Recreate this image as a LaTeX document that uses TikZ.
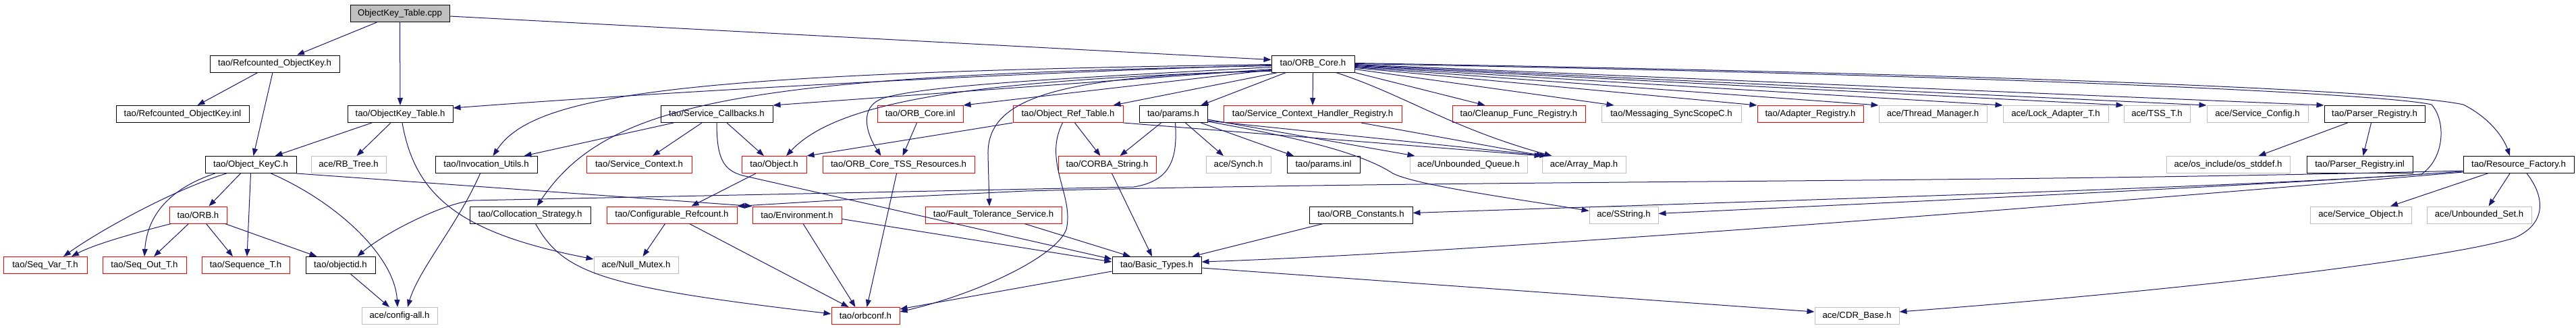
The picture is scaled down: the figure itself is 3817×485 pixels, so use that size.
\documentclass[tikz,border=0pt]{standalone}
\usepackage{fontspec}
\setmainfont{Liberation Sans}
\usetikzlibrary{arrows.meta}
\definecolor{edgec}{HTML}{191970}
\definecolor{graybd}{HTML}{BFBFBF}
\definecolor{redbd}{HTML}{FF0000}
\begin{document}
\begin{tikzpicture}[x=1pt,y=-1pt,
  box/.style={rectangle, minimum height=25pt, inner sep=0pt, line width=1pt, fill=white,
    font=\fontsize{13.2pt}{15pt}\selectfont, text=black},
  kbox/.style={box, draw=black},
  rbox/.style={box, draw=redbd},
  gbox/.style={box, draw=graybd},
  cbox/.style={box, draw=black, fill=graybd},
  e/.style={draw=edgec, line width=1pt, -{Triangle[length=11pt,width=8pt]}}]
\useasboundingbox[fill=white] (0,0) rectangle (3817,485);

% row 0
\node[cbox, minimum width=147pt] (cpp) at (592.5,20) {ObjectKey\_Table.cpp};
% row 1
\node[kbox, minimum width=192pt] (rok) at (407,94.5) {tao/Refcounted\_ObjectKey.h};
\node[kbox, minimum width=123pt] (orbcore) at (1945.5,94.5) {tao/ORB\_Core.h};
% row 2
\node[kbox, minimum width=197pt] (rokinl) at (270.5,169) {tao/Refcounted\_ObjectKey.inl};
\node[kbox, minimum width=156pt] (okt) at (593,169) {tao/ObjectKey\_Table.h};
\node[kbox, minimum width=166pt] (sc) at (1062,169) {tao/Service\_Callbacks.h};
\node[rbox, minimum width=127pt] (coreinl) at (1363.5,169) {tao/ORB\_Core.inl};
\node[rbox, minimum width=163pt] (ort) at (1582.5,169) {tao/Object\_Ref\_Table.h};
\node[kbox, minimum width=101pt] (params) at (1738.5,169) {tao/params.h};
\node[rbox, minimum width=264pt] (schr) at (1945,169) {tao/Service\_Context\_Handler\_Registry.h};
\node[rbox, minimum width=197pt] (cleanup) at (2250.5,169) {tao/Cleanup\_Func\_Registry.h};
\node[gbox, minimum width=207pt] (msg) at (2476.5,169) {tao/Messaging\_SyncScopeC.h};
\node[rbox, minimum width=157pt] (adapter) at (2682.5,169) {tao/Adapter\_Registry.h};
\node[gbox, minimum width=160pt] (thrmgr) at (2864,169) {ace/Thread\_Manager.h};
\node[gbox, minimum width=156pt] (lockad) at (3046,169) {ace/Lock\_Adapter\_T.h};
\node[gbox, minimum width=98pt] (tss) at (3196,169) {ace/TSS\_T.h};
\node[gbox, minimum width=150pt] (svccfg) at (3345,169) {ace/Service\_Config.h};
\node[kbox, minimum width=149pt] (preg) at (3518.5,169) {tao/Parser\_Registry.h};
% row 3
\node[kbox, minimum width=135pt] (okc) at (371.5,244) {tao/Object\_KeyC.h};
\node[gbox, minimum width=111pt] (rbtree) at (516.5,244) {ace/RB\_Tree.h};
\node[kbox, minimum width=151pt] (iu) at (720.5,244) {tao/Invocation\_Utils.h};
\node[rbox, minimum width=156pt] (sctx) at (947,244) {tao/Service\_Context.h};
\node[rbox, minimum width=96pt] (obj) at (1147,244) {tao/Object.h};
\node[rbox, minimum width=225pt] (tssr) at (1331.5,244) {tao/ORB\_Core\_TSS\_Resources.h};
\node[rbox, minimum width=145pt] (cstr) at (1640.5,244) {tao/CORBA\_String.h};
\node[gbox, minimum width=96pt] (synch) at (1835,244) {ace/Synch.h};
\node[kbox, minimum width=108pt] (paramsinl) at (1961,244) {tao/params.inl};
\node[gbox, minimum width=174pt] (ubq) at (2176,244) {ace/Unbounded\_Queue.h};
\node[gbox, minimum width=124pt] (amap) at (2347,244) {ace/Array\_Map.h};
\node[gbox, minimum width=183pt] (osstd) at (3301.5,244) {ace/os\_include/os\_stddef.h};
\node[kbox, minimum width=157pt] (preginl) at (3496.5,244) {tao/Parser\_Registry.inl};
\node[kbox, minimum width=164pt] (rf) at (3732,244) {tao/Resource\_Factory.h};
% row 4
\node[rbox, minimum width=85pt] (orb) at (293.5,318.5) {tao/ORB.h};
\node[kbox, minimum width=179pt] (colloc) at (785.5,318.5) {tao/Collocation\_Strategy.h};
\node[rbox, minimum width=193pt] (cref) at (995.5,318.5) {tao/Configurable\_Refcount.h};
\node[rbox, minimum width=132pt] (env) at (1181,318.5) {tao/Environment.h};
\node[rbox, minimum width=202pt] (fts) at (1472,318.5) {tao/Fault\_Tolerance\_Service.h};
\node[kbox, minimum width=153pt] (orbconst) at (2016.5,318.5) {tao/ORB\_Constants.h};
\node[gbox, minimum width=102pt] (sstring) at (2406,318.5) {ace/SString.h};
\node[gbox, minimum width=150pt] (svcobj) at (3498,318.5) {ace/Service\_Object.h};
\node[gbox, minimum width=155pt] (ubset) at (3673.5,318.5) {ace/Unbounded\_Set.h};
% row 5
\node[rbox, minimum width=124pt] (seqvar) at (67,393) {tao/Seq\_Var\_T.h};
\node[rbox, minimum width=124pt] (seqout) at (214,393) {tao/Seq\_Out\_T.h};
\node[rbox, minimum width=130pt] (seqt) at (364,393) {tao/Sequence\_T.h};
\node[kbox, minimum width=103pt] (objid) at (504.5,393) {tao/objectid.h};
\node[gbox, minimum width=125pt] (nullmx) at (942.5,393) {ace/Null\_Mutex.h};
\node[kbox, minimum width=132pt] (btypes) at (1714,393) {tao/Basic\_Types.h};
% row 6
\node[gbox, minimum width=112pt] (cfgall) at (592,468) {ace/config-all.h};
\node[rbox, minimum width=101pt] (orbconf) at (1282.5,468) {tao/orbconf.h};
\node[gbox, minimum width=125pt] (cdr) at (2751.5,468) {ace/CDR\_Base.h};

% ---- edges ----
\draw[e] ([xshift=-34pt]cpp.south) -- ([xshift=33pt]rok.north);
\draw[e] (cpp.south) -- (okt.north);
\draw[e] ([yshift=-4pt]cpp.east) -- ([yshift=6pt]orbcore.west);
\draw[e] ([xshift=-25pt]rok.south) -- ([xshift=22pt]rokinl.north);
\draw[e] ([xshift=-3pt]rok.south) -- ([xshift=4pt]okc.north);
\draw[e] ([xshift=-42pt]okt.south) -- ([xshift=36pt]okc.north);
\draw[e] ([xshift=-14pt]okt.south) -- ([xshift=12pt]rbtree.north);
\draw[e] ([xshift=3pt]okt.south) .. controls (615,290) and (680,345) .. ([yshift=9pt]nullmx.west);
\draw[e] ([xshift=-15pt]okc.south) -- ([xshift=16pt]orb.north);
\draw[e] ([xshift=-36pt]okc.south) .. controls (260,280) and (150,340) .. ([xshift=27pt]seqvar.north);
\draw[e] ([xshift=-53pt]okc.south) .. controls (250,280) and (218,320) .. (seqout.north);
\draw[e] (okc.south) -- ([xshift=2pt]seqt.north);
\draw[e] ([xshift=30pt]okc.south) .. controls (500,300) and (585,380) .. ([xshift=-3pt]cfgall.north);
\draw[e] (okc.south east) -- (env.north west);
\draw[e] ([xshift=-40pt]orb.south) .. controls (200,345) and (140,362) .. ([xshift=39pt]seqvar.north);
\draw[e] ([xshift=-14pt]orb.south) -- ([xshift=14pt]seqout.north);
\draw[e] ([xshift=12pt]orb.south) -- ([xshift=-19pt]seqt.north);
\draw[e] ([xshift=40pt]orb.south) -- ([xshift=-35pt]objid.north);
\draw[e] ([xshift=15pt]objid.south) -- ([xshift=-15pt]cfgall.north);
\draw[e] ([xshift=-9pt]iu.south) .. controls (680,330) and (620,400) .. ([xshift=12pt]cfgall.north);
\draw[e] ([xshift=-64pt]sc.south) -- ([xshift=56pt]iu.north);
\draw[e] ([xshift=-22pt]sc.south) -- ([xshift=20pt]sctx.north);
\draw[e] ([xshift=15pt]sc.south) -- ([xshift=-15pt]obj.north);
\draw[e] (sc.south) .. controls (1062,235) and (1072,252) .. (1100,260) -- ([yshift=9pt]btypes.west);
\draw[e] ([xshift=-27pt]obj.south) -- ([xshift=29pt]cref.north);
\draw[e] ([xshift=-10pt]cref.south) -- ([xshift=10pt]nullmx.north);
\draw[e] ([xshift=26pt]cref.south) -- ([xshift=-25pt]orbconf.north);
\draw[e] ([xshift=9pt]env.south) -- ([xshift=-15pt]orbconf.north);
\draw[e] ([yshift=-6pt]env.east) -- ([yshift=5pt]btypes.west);
\draw[e] ([xshift=8pt]colloc.south) .. controls (835,405) and (890,425) .. ([yshift=3pt]orbconf.west);
\draw[e] ([xshift=-3pt]tssr.south) -- ([xshift=2pt]orbconf.north);
\draw[e] ([xshift=-5pt]coreinl.south) -- ([xshift=6pt]tssr.north);
\draw[e] (ort.south west) -- (obj.north east);
\draw[e] ([xshift=10pt]ort.south) -- ([xshift=-10pt]cstr.north);
\draw[e] ([xshift=-8pt]ort.south) .. controls (1545,240) and (1592,290) .. (1580,340) .. controls (1565,380) and (1450,435) .. ([yshift=6pt]orbconf.east);
\draw[e] (ort.south east) -- (amap.north west);
\draw[e] ([xshift=-18pt]params.south) -- ([xshift=19pt]cstr.north);
\draw[e] ([xshift=3pt]params.south) .. controls (1745,235) and (1735,268) .. (1680,277) -- (700,297) .. controls (655,302) and (570,345) .. ([xshift=25pt]objid.north);
\draw[e] ([xshift=18pt]params.south) -- ([xshift=-22pt]synch.north);
\draw[e] ([xshift=41pt]params.south) -- ([xshift=-44pt]paramsinl.north);
\draw[e] ([yshift=-8pt]params.east) -- ([xshift=8pt]ubq.north west);
\draw[e] ([yshift=-10pt]params.east) -- ([xshift=8pt]amap.north west);
\draw[e] ([yshift=-11pt]params.east) .. controls (1900,200) and (2010,222) .. (2064,257) .. controls (2100,275) and (2250,295) .. ([yshift=6pt]sstring.west);
\draw[e] ([xshift=72pt]schr.south) -- ([xshift=3pt]amap.north west);
\draw[e] (orbcore.south) -- (schr.north);
\draw[e] (orbcore.south east) -- ([xshift=-50pt]cleanup.north);
\draw[e] ([yshift=-8pt]orbcore.east) -- ([xshift=-85pt]msg.north);
\draw[e] ([xshift=34pt]orbcore.south) .. controls (2080,140) and (2150,190) .. ([xshift=15pt]amap.north west);
\draw[e] ([yshift=-6pt]orbcore.east) -- (adapter.north west);
\draw[e] ([yshift=-5pt]orbcore.east) -- (thrmgr.north west);
\draw[e] ([yshift=-4pt]orbcore.east) -- (lockad.north west);
\draw[e] ([yshift=-3pt]orbcore.east) -- (tss.north west);
\draw[e] ([yshift=-2pt]orbcore.east) -- (svccfg.north west);
\draw[e] ([yshift=-1pt]orbcore.east) -- (preg.north west);
\draw[e] (orbcore.east) .. controls (3000,112) and (3540,140) .. (3603,155) .. controls (3625,180) and (3622,235) .. (3588,258) .. controls (3300,278) and (2700,295) .. ([yshift=3pt]orbconst.east);
\draw[e] ([yshift=1pt]orbcore.east) .. controls (3000,110) and (3560,135) .. (3650,155) .. controls (3690,175) and (3710,205) .. ([xshift=-13pt]rf.north);
\draw[e] ([xshift=-46pt]rf.south) -- ([xshift=44pt]svcobj.north);
\draw[e] ([xshift=-13pt]rf.south) -- ([xshift=14pt]ubset.north);
\draw[e] ([xshift=12pt]rf.south) .. controls (3770,290) and (3775,330) .. (3727,352) .. controls (3650,378) and (3300,425) .. ([yshift=6pt]cdr.east);
\draw[e] ([yshift=-9pt]rf.west) .. controls (2900,272) and (2200,266) .. (1520,283) -- (1250,296) -- (cref.north east);
\draw[e] ([yshift=-10pt]rf.west) .. controls (3300,278) and (2800,300) .. ([yshift=2pt]sstring.east);
\draw[e] ([yshift=-11pt]rf.west) .. controls (3500,268) and (2300,370) .. ([yshift=5pt]btypes.east);
\draw[e] ([xshift=-56pt]orbconst.south) -- ([xshift=-14pt]btypes.north east);
\draw[e] ([xshift=46pt]fts.south) -- ([xshift=-39pt]btypes.north);
\draw[e] ([xshift=7pt]cstr.south) -- ([xshift=-7pt]btypes.north);
\draw[e] ([yshift=-9pt]btypes.west) -- ([yshift=10pt]orbconf.east);
\draw[e] ([yshift=-4pt]btypes.east) -- ([yshift=6pt]cdr.west);
\draw[e] ([xshift=-40pt]preg.south) -- ([xshift=45pt]osstd.north);
\draw[e] ([xshift=-5pt]preg.south) -- ([xshift=5pt]preginl.north);
% ORB_Core.h fan to the left
\draw[e] ([yshift=-2pt]orbcore.west) .. controls (1500,108) and (1000,135) .. ([yshift=9pt]okt.east);
\draw[e] ([yshift=-1pt]orbcore.west) .. controls (1000,108) and (790,140) .. ([xshift=10pt]iu.north);
\draw[e] ([yshift=-3pt]orbcore.west) .. controls (1100,112) and (900,150) .. ([xshift=10pt]colloc.north);
\draw[e] ([yshift=-8pt]orbcore.west) -- (sc.north east);
\draw[e] ([yshift=-10pt]orbcore.west) .. controls (1500,118) and (1250,140) .. ([xshift=18pt]obj.north);
\draw[e] ([yshift=-5pt]orbcore.west) .. controls (1600,115) and (1380,125) .. (1310,145) .. controls (1270,158) and (1285,200) .. ([xshift=-26pt]tssr.north);
\draw[e] ([yshift=-9pt]orbcore.west) -- (coreinl.north east);
\draw[e] ([xshift=-52pt]orbcore.south) -- ([xshift=67pt]ort.north);
\draw[e] ([xshift=-40pt]orbcore.south) -- ([xshift=41pt]params.north);
\draw[e] ([yshift=-11pt]orbcore.west) .. controls (1550,112) and (1462,150) .. (1464,230) -- ([xshift=-6pt]fts.north);
\end{tikzpicture}
\end{document}
